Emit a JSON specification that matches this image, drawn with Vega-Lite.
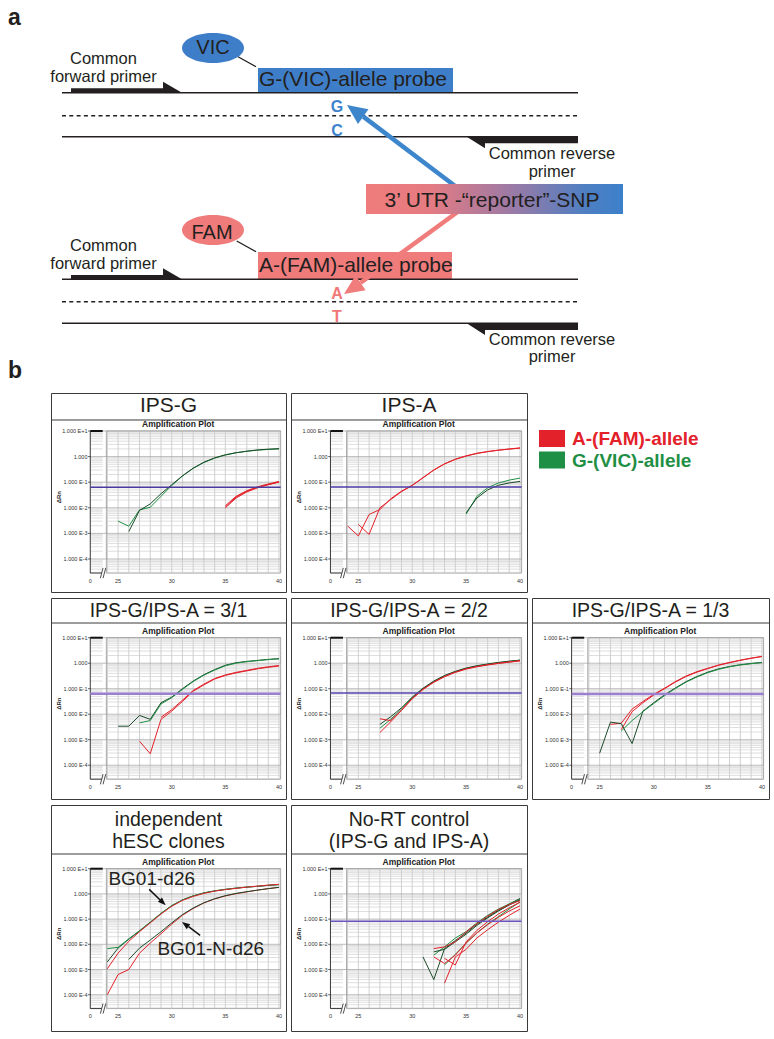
{
"$schema":"https://vega.github.io/schema/vega-lite/v6.json",
"padding":0,
"background":"#ffffff",
"config":{"view":{"stroke":"#3a3a3a","strokeWidth":1},"axis":{"disable":true},"legend":{"disable":true},"font":"Liberation Sans","text":{"font":"Liberation Sans"}},
"datasets":{
"hminor":[{"v":3e-5},{"v":4e-5},{"v":5e-5},{"v":6e-5},{"v":7e-5},{"v":8e-5},{"v":9e-5},{"v":2e-4},{"v":3e-4},{"v":4e-4},{"v":5e-4},{"v":6e-4},{"v":7e-4},{"v":8e-4},{"v":9e-4},{"v":0.002},{"v":0.003},{"v":0.004},{"v":0.005},{"v":0.006},{"v":0.007},{"v":0.008},{"v":0.009},{"v":0.02},{"v":0.03},{"v":0.04},{"v":0.05},{"v":0.06},{"v":0.07},{"v":0.08},{"v":0.09},{"v":0.2},{"v":0.3},{"v":0.4},{"v":0.5},{"v":0.6},{"v":0.7},{"v":0.8},{"v":0.9},{"v":2},{"v":3},{"v":4},{"v":5},{"v":6},{"v":7},{"v":8},{"v":9}],
"ylab":[{"v":10,"t":"1.000 E+1"},{"v":1,"t":"1.000"},{"v":0.1,"t":"1.000 E-1"},{"v":0.01,"t":"1.000 E-2"},{"v":0.001,"t":"1.000 E-3"},{"v":0.0001,"t":"1.000 E-4"}],
"vgrid":[{"c":24},{"c":25},{"c":26},{"c":27},{"c":28},{"c":29},{"c":30},{"c":31},{"c":32},{"c":33},{"c":34},{"c":35},{"c":36},{"c":37},{"c":38},{"c":39},{"c":40}],
"xlab":[{"c":22.41,"t":"0"},{"c":25,"t":"25"},{"c":30,"t":"30"},{"c":35,"t":"35"},{"c":40,"t":"40"}]
},
"spacing":4,
"vconcat":[
{"width":774,"height":388,"view":{"stroke":null},"data":{"values":[{}]},
"layer":[
{"data":{"values":[{"x":258,"x2":453,"y":68,"y2":92.7}]},"mark":{"type":"rect","fill":"#3e7ec8"},"encoding":{"x":{"field":"x","type":"quantitative","scale":{"domain":[0,774],"nice":false,"zero":false}},"x2":{"field":"x2"},"y":{"field":"y","type":"quantitative","scale":{"domain":[0,388],"reverse":true,"nice":false,"zero":false}},"y2":{"field":"y2"}}},
{"data":{"values":[{"x":258,"x2":452,"y":252,"y2":279.3}]},"mark":{"type":"rect","fill":"#ef7b7b"},"encoding":{"x":{"field":"x","type":"quantitative"},"x2":{"field":"x2"},"y":{"field":"y","type":"quantitative"},"y2":{"field":"y2"}}},
{"data":{"values":[{"x":62,"x2":578,"y":92.7},{"x":62,"x2":578,"y":136.7},{"x":62,"x2":578,"y":279.3},{"x":62,"x2":578,"y":323.3}]},"mark":{"type":"rule","stroke":"#231f20","strokeWidth":1.4},"encoding":{"x":{"field":"x","type":"quantitative"},"x2":{"field":"x2"},"y":{"field":"y","type":"quantitative"}}},
{"data":{"values":[{"x":62,"x2":578,"y":115.7},{"x":62,"x2":578,"y":301.7}]},"mark":{"type":"rule","stroke":"#231f20","strokeWidth":1.5,"strokeDash":[4,3.3]},"encoding":{"x":{"field":"x","type":"quantitative"},"x2":{"field":"x2"},"y":{"field":"y","type":"quantitative"}}},
{"data":{"values":[{"x":126.5,"y":87.2},{"x":126.5,"y":273.8}]},"mark":{"type":"point","shape":"M-1,0.0198L0.658,0.0198L0.658,-0.0991L1,0.0991L-1,0.0991Z","size":12321,"filled":true,"fill":"#231f20","opacity":1,"strokeWidth":0},"encoding":{"x":{"field":"x","type":"quantitative"},"y":{"field":"y","type":"quantitative"}}},
{"data":{"values":[{"x":522.35,"y":142.5},{"x":522.35,"y":329.1}]},"mark":{"type":"point","shape":"M-1,-0.1042L1,-0.1042L1,0.0144L-0.671,0.0144L-0.671,0.1042Z","size":12388,"filled":true,"fill":"#231f20","opacity":1,"strokeWidth":0},"encoding":{"x":{"field":"x","type":"quantitative"},"y":{"field":"y","type":"quantitative"}}},
{"data":{"values":[{"x":236.7,"y":56,"x2":256,"y2":66.7},{"x":236.7,"y":241,"x2":256,"y2":251.7}]},"mark":{"type":"rule","stroke":"#231f20","strokeWidth":1.3},"encoding":{"x":{"field":"x","type":"quantitative"},"x2":{"field":"x2"},"y":{"field":"y","type":"quantitative"},"y2":{"field":"y2"}}},
{"data":{"values":[{"x":213,"y":48}]},"mark":{"type":"point","shape":"M-1,0C-1,-0.267,-0.552,-0.484,0,-0.484C0.552,-0.484,1,-0.267,1,0C1,0.267,0.552,0.484,0,0.484C-0.552,0.484,-1,0.267,-1,0Z","size":3844,"filled":true,"fill":"#3e7ec8","opacity":1,"strokeWidth":0},"encoding":{"x":{"field":"x","type":"quantitative"},"y":{"field":"y","type":"quantitative"}}},
{"data":{"values":[{"x":213,"y":230}]},"mark":{"type":"point","shape":"M-1,0C-1,-0.267,-0.552,-0.484,0,-0.484C0.552,-0.484,1,-0.267,1,0C1,0.267,0.552,0.484,0,0.484C-0.552,0.484,-1,0.267,-1,0Z","size":3844,"filled":true,"fill":"#ef7b7b","opacity":1,"strokeWidth":0},"encoding":{"x":{"field":"x","type":"quantitative"},"y":{"field":"y","type":"quantitative"}}},
{"data":{"values":[{"x":463,"y":192,"x2":363.3,"y2":116.6}]},"mark":{"type":"rule","stroke":"#3d86cc","strokeWidth":4.5},"encoding":{"x":{"field":"x","type":"quantitative"},"x2":{"field":"x2"},"y":{"field":"y","type":"quantitative"},"y2":{"field":"y2"}}},
{"data":{"values":[{"x":463,"y":208,"x2":360.6,"y2":282.8}]},"mark":{"type":"rule","stroke":"#f17c7c","strokeWidth":4.5},"encoding":{"x":{"field":"x","type":"quantitative"},"x2":{"field":"x2"},"y":{"field":"y","type":"quantitative"},"y2":{"field":"y2"}}},
{"data":{"values":[{"x":366,"x2":623,"y":184,"y2":214}]},"mark":{"type":"rect","fill":{"gradient":"linear","x1":0,"x2":1,"y1":0,"y2":0,"stops":[{"offset":0,"color":"#f07c7c"},{"offset":0.25,"color":"#e47b82"},{"offset":0.55,"color":"#a07aa4"},{"offset":0.85,"color":"#4f7fc2"},{"offset":1,"color":"#3c80ca"}]}},"encoding":{"x":{"field":"x","type":"quantitative"},"x2":{"field":"x2"},"y":{"field":"y","type":"quantitative"},"y2":{"field":"y2"}}},
{"data":{"values":[{"x":355.1,"y":110.8}]},"mark":{"type":"point","shape":"M0,-1L0.9,1L-0.9,1Z","size":400,"filled":true,"fill":"#3d86cc","opacity":1,"strokeWidth":0,"angle":305.6},"encoding":{"x":{"field":"x","type":"quantitative"},"y":{"field":"y","type":"quantitative"}}},
{"data":{"values":[{"x":352.3,"y":288.4}]},"mark":{"type":"point","shape":"M0,-1L0.9,1L-0.9,1Z","size":400,"filled":true,"fill":"#f17c7c","opacity":1,"strokeWidth":0,"angle":236.1},"encoding":{"x":{"field":"x","type":"quantitative"},"y":{"field":"y","type":"quantitative"}}},
{"data":{"values":[{"x":213,"y":54,"t":"VIC"},{"x":212,"y":238.5,"t":"FAM"}]},"mark":{"type":"text","fontSize":20,"fill":"#231f20","align":"center","baseline":"alphabetic"},"encoding":{"x":{"field":"x","type":"quantitative"},"y":{"field":"y","type":"quantitative"},"text":{"field":"t"}}},
{"data":{"values":[{"x":259,"y":86,"t":"G-(VIC)-allele probe"},{"x":259,"y":272,"t":"A-(FAM)-allele probe"}]},"mark":{"type":"text","fontSize":21,"fill":"#231f20","align":"left","baseline":"alphabetic"},"encoding":{"x":{"field":"x","type":"quantitative"},"y":{"field":"y","type":"quantitative"},"text":{"field":"t"}}},
{"data":{"values":[{"x":492,"y":206.5,"t":"3’ UTR -“reporter”-SNP"}]},"mark":{"type":"text","fontSize":21,"fill":"#231f20","align":"center","baseline":"alphabetic"},"encoding":{"x":{"field":"x","type":"quantitative"},"y":{"field":"y","type":"quantitative"},"text":{"field":"t"}}},
{"data":{"values":[{"x":103.5,"y":64,"t":"Common"},{"x":103.5,"y":82,"t":"forward primer"},{"x":103.5,"y":251,"t":"Common"},{"x":103.5,"y":269,"t":"forward primer"},{"x":552,"y":159,"t":"Common reverse"},{"x":552,"y":177,"t":"primer"},{"x":552,"y":345,"t":"Common reverse"},{"x":552,"y":362,"t":"primer"}]},"mark":{"type":"text","fontSize":16.5,"fill":"#231f20","align":"center","baseline":"alphabetic"},"encoding":{"x":{"field":"x","type":"quantitative"},"y":{"field":"y","type":"quantitative"},"text":{"field":"t"}}},
{"data":{"values":[{"x":337,"y":111.5,"t":"G"},{"x":337,"y":135.5,"t":"C"}]},"mark":{"type":"text","fontSize":16,"fontWeight":"bold","fill":"#3f83cc","align":"center","baseline":"alphabetic"},"encoding":{"x":{"field":"x","type":"quantitative"},"y":{"field":"y","type":"quantitative"},"text":{"field":"t"}}},
{"data":{"values":[{"x":337,"y":299,"t":"A"},{"x":337,"y":321.5,"t":"T"}]},"mark":{"type":"text","fontSize":16,"fontWeight":"bold","fill":"#f07878","align":"center","baseline":"alphabetic"},"encoding":{"x":{"field":"x","type":"quantitative"},"y":{"field":"y","type":"quantitative"},"text":{"field":"t"}}},
{"data":{"values":[{"x":8,"y":25,"t":"a"},{"x":8,"y":378,"t":"b"}]},"mark":{"type":"text","fontSize":23,"fontWeight":"bold","fill":"#231f20","align":"left","baseline":"alphabetic"},"encoding":{"x":{"field":"x","type":"quantitative"},"y":{"field":"y","type":"quantitative"},"text":{"field":"t"}}}
]},
{"spacing":4,"hconcat":[
{"width":46,"height":10,"view":{"stroke":null},"data":{"values":[{}]},"mark":{"type":"text","text":""},"encoding":{}},
{"spacing":4,"vconcat":[
{"spacing":3,"hconcat":[
{"width":235,"height":199,"data":{"values":[{}]},"layer":[
{"mark":{"type":"rect","fill":"#ffffff","stroke":"#8c8c8c","strokeWidth":0.8},"encoding":{"x":{"datum":23.91,"type":"quantitative","scale":{"domain":[18.75,40.65],"nice":false,"zero":false}},"x2":{"datum":40.15},"y":{"datum":10,"type":"quantitative","scale":{"type":"log","domain":[5.13e-6,304.8],"nice":false}},"y2":{"datum":2.82e-5}}},
{"data":{"name":"vgrid"},"mark":{"type":"rule","stroke":"#bcbcbc","strokeWidth":0.7},"encoding":{"x":{"field":"c","type":"quantitative"},"y":{"datum":2.82e-5,"type":"quantitative"},"y2":{"datum":10}}},
{"data":{"name":"hminor"},"mark":{"type":"rule","stroke":"#d0d0d0","strokeWidth":0.7},"encoding":{"x":{"datum":23.91,"type":"quantitative"},"x2":{"datum":40.15},"y":{"field":"v","type":"quantitative"}}},
{"data":{"name":"hminor"},"mark":{"type":"rule","stroke":"#d0d0d0","strokeWidth":0.7},"encoding":{"x":{"datum":22.41,"type":"quantitative"},"x2":{"datum":23.57},"y":{"field":"v","type":"quantitative"}}},
{"data":{"name":"ylab"},"mark":{"type":"rule","stroke":"#a0a0a0","strokeWidth":0.7},"encoding":{"x":{"datum":22.41,"type":"quantitative"},"x2":{"datum":40.15},"y":{"field":"v","type":"quantitative"}}},
{"data":{"name":"ylab"},"mark":{"type":"rule","stroke":"#222222","strokeWidth":0.7},"encoding":{"x":{"datum":22.2,"type":"quantitative"},"x2":{"datum":22.41},"y":{"field":"v","type":"quantitative"}}},
{"mark":{"type":"rule","stroke":"#222222","strokeWidth":0.9},"encoding":{"x":{"datum":22.41,"type":"quantitative"},"y":{"datum":2.82e-5,"type":"quantitative"},"y2":{"datum":10}}},
{"mark":{"type":"rule","stroke":"#111111","strokeWidth":2},"encoding":{"x":{"datum":22.41,"type":"quantitative"},"x2":{"datum":23.57},"y":{"datum":10,"type":"quantitative"}}},
{"mark":{"type":"rule","stroke":"#222222","strokeWidth":0.9},"encoding":{"x":{"datum":22.41,"type":"quantitative"},"x2":{"datum":23.45},"y":{"datum":2.82e-5,"type":"quantitative"}}},
{"mark":{"type":"rule","stroke":"#222222","strokeWidth":0.8},"encoding":{"x":{"datum":23.35,"type":"quantitative"},"x2":{"datum":23.6},"y":{"datum":1.78e-5,"type":"quantitative"},"y2":{"datum":4.47e-5}}},
{"mark":{"type":"rule","stroke":"#222222","strokeWidth":0.8},"encoding":{"x":{"datum":23.6,"type":"quantitative"},"x2":{"datum":23.85},"y":{"datum":1.78e-5,"type":"quantitative"},"y2":{"datum":4.47e-5}}},
{"data":{"name":"ylab"},"mark":{"type":"text","align":"right","baseline":"middle","fontSize":5.5,"fill":"#333333"},"encoding":{"x":{"datum":22.15,"type":"quantitative"},"y":{"field":"v","type":"quantitative"},"text":{"field":"t"}}},
{"data":{"name":"xlab"},"mark":{"type":"text","align":"center","baseline":"middle","fontSize":5.5,"fill":"#333333"},"encoding":{"x":{"field":"c","type":"quantitative"},"y":{"datum":1.41e-5,"type":"quantitative"},"text":{"field":"t"}}},
{"mark":{"type":"text","text":"Amplification Plot","fontSize":8.5,"fontWeight":"bold","fill":"#222222","baseline":"middle"},"encoding":{"x":{"datum":30.6,"type":"quantitative"},"y":{"datum":18.6,"type":"quantitative"}}},
{"mark":{"type":"text","text":"ΔRn","fontSize":6,"fontWeight":"bold","fill":"#222222","angle":270,"baseline":"middle"},"encoding":{"x":{"datum":19.45,"type":"quantitative"},"y":{"datum":0.026,"type":"quantitative"}}},
{"mark":{"type":"rule","stroke":"#3a3a3a","strokeWidth":1},"encoding":{"x":{"datum":18.75,"type":"quantitative"},"x2":{"datum":40.65},"y":{"datum":26.9,"type":"quantitative"}}},
{"mark":{"type":"text","text":"IPS-G","fontSize":21,"fill":"#231f20","align":"center","baseline":"middle"},"encoding":{"x":{"datum":29.7,"type":"quantitative"},"y":{"datum":90.6,"type":"quantitative"}}},
{"data":{"values":[
{"c":25,"v":0.00302,"a":"G","r":"g1"},{"c":26,"v":0.001905,"a":"G","r":"g1"},{"c":27,"v":0.00832,"a":"G","r":"g1"},{"c":28,"v":0.01047,"a":"G","r":"g1"},{"c":29,"v":0.02818,"a":"G","r":"g1"},{"c":30,"v":0.0741,"a":"G","r":"g1"},{"c":31,"v":0.1738,"a":"G","r":"g1"},{"c":32,"v":0.3467,"a":"G","r":"g1"},{"c":33,"v":0.5888,"a":"G","r":"g1"},{"c":34,"v":0.871,"a":"G","r":"g1"},{"c":35,"v":1.148,"a":"G","r":"g1"},{"c":36,"v":1.413,"a":"G","r":"g1"},{"c":37,"v":1.622,"a":"G","r":"g1"},{"c":38,"v":1.778,"a":"G","r":"g1"},{"c":39,"v":1.905,"a":"G","r":"g1"},{"c":40,"v":1.995,"a":"G","r":"g1"},
{"c":26,"v":0.001175,"a":"K","r":"g2"},{"c":27,"v":0.00794,"a":"K","r":"g2"},{"c":28,"v":0.01413,"a":"K","r":"g2"},{"c":29,"v":0.03548,"a":"K","r":"g2"},{"c":30,"v":0.0794,"a":"K","r":"g2"},{"c":31,"v":0.1778,"a":"K","r":"g2"},{"c":32,"v":0.3548,"a":"K","r":"g2"},{"c":33,"v":0.6026,"a":"K","r":"g2"},{"c":34,"v":0.891,"a":"K","r":"g2"},{"c":35,"v":1.175,"a":"K","r":"g2"},{"c":36,"v":1.413,"a":"K","r":"g2"},{"c":37,"v":1.622,"a":"K","r":"g2"},{"c":38,"v":1.82,"a":"K","r":"g2"},{"c":39,"v":1.95,"a":"K","r":"g2"},{"c":40,"v":2.042,"a":"K","r":"g2"},
{"c":35,"v":0.01,"a":"A","r":"r1"},{"c":36,"v":0.02399,"a":"A","r":"r1"},{"c":37,"v":0.04169,"a":"A","r":"r1"},{"c":38,"v":0.06026,"a":"A","r":"r1"},{"c":39,"v":0.07943,"a":"A","r":"r1"},{"c":40,"v":0.1,"a":"A","r":"r1"},
{"c":35,"v":0.01202,"a":"A","r":"r2"},{"c":36,"v":0.02818,"a":"A","r":"r2"},{"c":37,"v":0.04677,"a":"A","r":"r2"},{"c":38,"v":0.06607,"a":"A","r":"r2"},{"c":39,"v":0.08511,"a":"A","r":"r2"},{"c":40,"v":0.1072,"a":"A","r":"r2"},
{"c":35,"v":0.01072,"a":"A","r":"r3"},{"c":36,"v":0.0263,"a":"A","r":"r3"},{"c":37,"v":0.04365,"a":"A","r":"r3"},{"c":38,"v":0.0631,"a":"A","r":"r3"},{"c":39,"v":0.08128,"a":"A","r":"r3"},{"c":40,"v":0.1023,"a":"A","r":"r3"}
]},"mark":{"type":"line","strokeWidth":1},"encoding":{"x":{"field":"c","type":"quantitative"},"y":{"field":"v","type":"quantitative"},"color":{"field":"a","type":"nominal","scale":{"domain":["A","G","K"],"range":["#e3212a","#1f8f45","#1b4a28"]}},"detail":{"field":"r","type":"nominal"}}},
{"mark":{"type":"rule","stroke":"#4a3aa0","strokeWidth":1.5},"encoding":{"x":{"datum":22.41,"type":"quantitative"},"x2":{"datum":40.15},"y":{"datum":0.063,"type":"quantitative"}}}
]},
{"width":236,"height":199,"data":{"values":[{}]},"layer":[
{"mark":{"type":"rect","fill":"#ffffff","stroke":"#8c8c8c","strokeWidth":0.8},"encoding":{"x":{"datum":23.91,"type":"quantitative","scale":{"domain":[18.75,40.65],"nice":false,"zero":false}},"x2":{"datum":40.15},"y":{"datum":10,"type":"quantitative","scale":{"type":"log","domain":[5.13e-6,304.8],"nice":false}},"y2":{"datum":2.82e-5}}},
{"data":{"name":"vgrid"},"mark":{"type":"rule","stroke":"#bcbcbc","strokeWidth":0.7},"encoding":{"x":{"field":"c","type":"quantitative"},"y":{"datum":2.82e-5,"type":"quantitative"},"y2":{"datum":10}}},
{"data":{"name":"hminor"},"mark":{"type":"rule","stroke":"#d0d0d0","strokeWidth":0.7},"encoding":{"x":{"datum":23.91,"type":"quantitative"},"x2":{"datum":40.15},"y":{"field":"v","type":"quantitative"}}},
{"data":{"name":"hminor"},"mark":{"type":"rule","stroke":"#d0d0d0","strokeWidth":0.7},"encoding":{"x":{"datum":22.41,"type":"quantitative"},"x2":{"datum":23.57},"y":{"field":"v","type":"quantitative"}}},
{"data":{"name":"ylab"},"mark":{"type":"rule","stroke":"#a0a0a0","strokeWidth":0.7},"encoding":{"x":{"datum":22.41,"type":"quantitative"},"x2":{"datum":40.15},"y":{"field":"v","type":"quantitative"}}},
{"data":{"name":"ylab"},"mark":{"type":"rule","stroke":"#222222","strokeWidth":0.7},"encoding":{"x":{"datum":22.2,"type":"quantitative"},"x2":{"datum":22.41},"y":{"field":"v","type":"quantitative"}}},
{"mark":{"type":"rule","stroke":"#222222","strokeWidth":0.9},"encoding":{"x":{"datum":22.41,"type":"quantitative"},"y":{"datum":2.82e-5,"type":"quantitative"},"y2":{"datum":10}}},
{"mark":{"type":"rule","stroke":"#111111","strokeWidth":2},"encoding":{"x":{"datum":22.41,"type":"quantitative"},"x2":{"datum":23.57},"y":{"datum":10,"type":"quantitative"}}},
{"mark":{"type":"rule","stroke":"#222222","strokeWidth":0.9},"encoding":{"x":{"datum":22.41,"type":"quantitative"},"x2":{"datum":23.45},"y":{"datum":2.82e-5,"type":"quantitative"}}},
{"mark":{"type":"rule","stroke":"#222222","strokeWidth":0.8},"encoding":{"x":{"datum":23.35,"type":"quantitative"},"x2":{"datum":23.6},"y":{"datum":1.78e-5,"type":"quantitative"},"y2":{"datum":4.47e-5}}},
{"mark":{"type":"rule","stroke":"#222222","strokeWidth":0.8},"encoding":{"x":{"datum":23.6,"type":"quantitative"},"x2":{"datum":23.85},"y":{"datum":1.78e-5,"type":"quantitative"},"y2":{"datum":4.47e-5}}},
{"data":{"name":"ylab"},"mark":{"type":"text","align":"right","baseline":"middle","fontSize":5.5,"fill":"#333333"},"encoding":{"x":{"datum":22.15,"type":"quantitative"},"y":{"field":"v","type":"quantitative"},"text":{"field":"t"}}},
{"data":{"name":"xlab"},"mark":{"type":"text","align":"center","baseline":"middle","fontSize":5.5,"fill":"#333333"},"encoding":{"x":{"field":"c","type":"quantitative"},"y":{"datum":1.41e-5,"type":"quantitative"},"text":{"field":"t"}}},
{"mark":{"type":"text","text":"Amplification Plot","fontSize":8.5,"fontWeight":"bold","fill":"#222222","baseline":"middle"},"encoding":{"x":{"datum":30.6,"type":"quantitative"},"y":{"datum":18.6,"type":"quantitative"}}},
{"mark":{"type":"text","text":"ΔRn","fontSize":6,"fontWeight":"bold","fill":"#222222","angle":270,"baseline":"middle"},"encoding":{"x":{"datum":19.45,"type":"quantitative"},"y":{"datum":0.026,"type":"quantitative"}}},
{"mark":{"type":"rule","stroke":"#3a3a3a","strokeWidth":1},"encoding":{"x":{"datum":18.75,"type":"quantitative"},"x2":{"datum":40.65},"y":{"datum":26.9,"type":"quantitative"}}},
{"mark":{"type":"text","text":"IPS-A","fontSize":21,"fill":"#231f20","align":"center","baseline":"middle"},"encoding":{"x":{"datum":29.7,"type":"quantitative"},"y":{"datum":90.6,"type":"quantitative"}}},
{"data":{"values":[
{"c":24,"v":0.00195,"a":"A","r":"r1"},{"c":25,"v":0.000794,"a":"A","r":"r1"},{"c":26,"v":0.005495,"a":"A","r":"r1"},{"c":27,"v":0.008511,"a":"A","r":"r1"},{"c":28,"v":0.02239,"a":"A","r":"r1"},{"c":29,"v":0.04467,"a":"A","r":"r1"},{"c":30,"v":0.07586,"a":"A","r":"r1"},{"c":31,"v":0.1514,"a":"A","r":"r1"},{"c":32,"v":0.302,"a":"A","r":"r1"},{"c":33,"v":0.5248,"a":"A","r":"r1"},{"c":34,"v":0.7943,"a":"A","r":"r1"},{"c":35,"v":1.072,"a":"A","r":"r1"},{"c":36,"v":1.349,"a":"A","r":"r1"},{"c":37,"v":1.585,"a":"A","r":"r1"},{"c":38,"v":1.778,"a":"A","r":"r1"},{"c":39,"v":1.995,"a":"A","r":"r1"},{"c":40,"v":2.188,"a":"A","r":"r1"},
{"c":25,"v":0.002239,"a":"A","r":"r2"},{"c":26,"v":0.000912,"a":"A","r":"r2"},{"c":27,"v":0.01,"a":"A","r":"r2"},{"c":28,"v":0.02089,"a":"A","r":"r2"},{"c":29,"v":0.04266,"a":"A","r":"r2"},{"c":30,"v":0.07413,"a":"A","r":"r2"},{"c":31,"v":0.1479,"a":"A","r":"r2"},{"c":32,"v":0.2951,"a":"A","r":"r2"},{"c":33,"v":0.5129,"a":"A","r":"r2"},{"c":34,"v":0.7762,"a":"A","r":"r2"},{"c":35,"v":1.047,"a":"A","r":"r2"},{"c":36,"v":1.318,"a":"A","r":"r2"},{"c":37,"v":1.549,"a":"A","r":"r2"},{"c":38,"v":1.778,"a":"A","r":"r2"},{"c":39,"v":1.95,"a":"A","r":"r2"},{"c":40,"v":2.138,"a":"A","r":"r2"},
{"c":35,"v":0.005623,"a":"G","r":"g1"},{"c":36,"v":0.02818,"a":"G","r":"g1"},{"c":37,"v":0.06026,"a":"G","r":"g1"},{"c":38,"v":0.09333,"a":"G","r":"g1"},{"c":39,"v":0.1202,"a":"G","r":"g1"},{"c":40,"v":0.1445,"a":"G","r":"g1"},
{"c":35,"v":0.00631,"a":"K","r":"g2"},{"c":36,"v":0.02399,"a":"K","r":"g2"},{"c":37,"v":0.05012,"a":"K","r":"g2"},{"c":38,"v":0.07586,"a":"K","r":"g2"},{"c":39,"v":0.09333,"a":"K","r":"g2"},{"c":40,"v":0.1072,"a":"K","r":"g2"}
]},"mark":{"type":"line","strokeWidth":1},"encoding":{"x":{"field":"c","type":"quantitative"},"y":{"field":"v","type":"quantitative"},"color":{"field":"a","type":"nominal","scale":{"domain":["A","G","K"],"range":["#e3212a","#1f8f45","#1b4a28"]}},"detail":{"field":"r","type":"nominal"}}},
{"mark":{"type":"rule","stroke":"#4d3ba8","strokeWidth":1.5},"encoding":{"x":{"datum":22.41,"type":"quantitative"},"x2":{"datum":40.15},"y":{"datum":0.065,"type":"quantitative"}}}
]},
{"width":237,"height":199,"view":{"stroke":null},"data":{"values":[{"k":1,"a":"A","t":"A-(FAM)-allele"},{"k":2,"a":"G","t":"G-(VIC)-allele"}]},"layer":[
{"mark":{"type":"point","shape":"M-1,-0.654H1V0.654H-1Z","size":676,"filled":true,"opacity":1,"strokeWidth":0},"encoding":{"x":{"datum":21,"type":"quantitative","scale":{"domain":[0,237],"nice":false,"zero":false}},"y":{"field":"k","type":"quantitative","scale":{"domain":[-1.116,8.14],"reverse":true,"nice":false,"zero":false}},"color":{"field":"a","type":"nominal","scale":{"domain":["A","G","K"],"range":["#e3212a","#1f8f45","#1b4a28"]}}}},
{"mark":{"type":"text","align":"left","baseline":"middle","fontSize":19,"fontWeight":"bold","dy":1},"encoding":{"x":{"datum":41,"type":"quantitative"},"y":{"field":"k","type":"quantitative"},"text":{"field":"t"},"color":{"field":"a","type":"nominal"}}}
]}
]},
{"spacing":3,"hconcat":[
{"width":235,"height":201,"data":{"values":[{}]},"layer":[
{"mark":{"type":"rect","fill":"#ffffff","stroke":"#8c8c8c","strokeWidth":0.8},"encoding":{"x":{"datum":23.91,"type":"quantitative","scale":{"domain":[18.75,40.65],"nice":false,"zero":false}},"x2":{"datum":40.15},"y":{"datum":10,"type":"quantitative","scale":{"type":"log","domain":[4.73e-6,360.6],"nice":false}},"y2":{"datum":2.82e-5}}},
{"data":{"name":"vgrid"},"mark":{"type":"rule","stroke":"#bcbcbc","strokeWidth":0.7},"encoding":{"x":{"field":"c","type":"quantitative"},"y":{"datum":2.82e-5,"type":"quantitative"},"y2":{"datum":10}}},
{"data":{"name":"hminor"},"mark":{"type":"rule","stroke":"#d0d0d0","strokeWidth":0.7},"encoding":{"x":{"datum":23.91,"type":"quantitative"},"x2":{"datum":40.15},"y":{"field":"v","type":"quantitative"}}},
{"data":{"name":"hminor"},"mark":{"type":"rule","stroke":"#d0d0d0","strokeWidth":0.7},"encoding":{"x":{"datum":22.41,"type":"quantitative"},"x2":{"datum":23.57},"y":{"field":"v","type":"quantitative"}}},
{"data":{"name":"ylab"},"mark":{"type":"rule","stroke":"#a0a0a0","strokeWidth":0.7},"encoding":{"x":{"datum":22.41,"type":"quantitative"},"x2":{"datum":40.15},"y":{"field":"v","type":"quantitative"}}},
{"data":{"name":"ylab"},"mark":{"type":"rule","stroke":"#222222","strokeWidth":0.7},"encoding":{"x":{"datum":22.2,"type":"quantitative"},"x2":{"datum":22.41},"y":{"field":"v","type":"quantitative"}}},
{"mark":{"type":"rule","stroke":"#222222","strokeWidth":0.9},"encoding":{"x":{"datum":22.41,"type":"quantitative"},"y":{"datum":2.82e-5,"type":"quantitative"},"y2":{"datum":10}}},
{"mark":{"type":"rule","stroke":"#111111","strokeWidth":2},"encoding":{"x":{"datum":22.41,"type":"quantitative"},"x2":{"datum":23.57},"y":{"datum":10,"type":"quantitative"}}},
{"mark":{"type":"rule","stroke":"#222222","strokeWidth":0.9},"encoding":{"x":{"datum":22.41,"type":"quantitative"},"x2":{"datum":23.45},"y":{"datum":2.82e-5,"type":"quantitative"}}},
{"mark":{"type":"rule","stroke":"#222222","strokeWidth":0.8},"encoding":{"x":{"datum":23.35,"type":"quantitative"},"x2":{"datum":23.6},"y":{"datum":1.78e-5,"type":"quantitative"},"y2":{"datum":4.47e-5}}},
{"mark":{"type":"rule","stroke":"#222222","strokeWidth":0.8},"encoding":{"x":{"datum":23.6,"type":"quantitative"},"x2":{"datum":23.85},"y":{"datum":1.78e-5,"type":"quantitative"},"y2":{"datum":4.47e-5}}},
{"data":{"name":"ylab"},"mark":{"type":"text","align":"right","baseline":"middle","fontSize":5.5,"fill":"#333333"},"encoding":{"x":{"datum":22.15,"type":"quantitative"},"y":{"field":"v","type":"quantitative"},"text":{"field":"t"}}},
{"data":{"name":"xlab"},"mark":{"type":"text","align":"center","baseline":"middle","fontSize":5.5,"fill":"#333333"},"encoding":{"x":{"field":"c","type":"quantitative"},"y":{"datum":1.41e-5,"type":"quantitative"},"text":{"field":"t"}}},
{"mark":{"type":"text","text":"Amplification Plot","fontSize":8.5,"fontWeight":"bold","fill":"#222222","baseline":"middle"},"encoding":{"x":{"datum":30.6,"type":"quantitative"},"y":{"datum":18.6,"type":"quantitative"}}},
{"mark":{"type":"text","text":"ΔRn","fontSize":6,"fontWeight":"bold","fill":"#222222","angle":270,"baseline":"middle"},"encoding":{"x":{"datum":19.45,"type":"quantitative"},"y":{"datum":0.026,"type":"quantitative"}}},
{"mark":{"type":"rule","stroke":"#3a3a3a","strokeWidth":1},"encoding":{"x":{"datum":18.75,"type":"quantitative"},"x2":{"datum":40.65},"y":{"datum":37.7,"type":"quantitative"}}},
{"mark":{"type":"text","text":"IPS-G/IPS-A = 3/1","fontSize":19.5,"fill":"#231f20","align":"center","baseline":"middle"},"encoding":{"x":{"datum":29.7,"type":"quantitative"},"y":{"datum":116.6,"type":"quantitative"}}},
{"data":{"values":[
{"c":25,"v":0.003388,"a":"K","r":"g1"},{"c":26,"v":0.003388,"a":"K","r":"g1"},{"c":27,"v":0.008913,"a":"K","r":"g1"},{"c":28,"v":0.00631,"a":"K","r":"g1"},{"c":29,"v":0.02818,"a":"K","r":"g1"},{"c":30,"v":0.04677,"a":"K","r":"g1"},{"c":31,"v":0.1,"a":"K","r":"g1"},{"c":32,"v":0.1995,"a":"K","r":"g1"},{"c":33,"v":0.3548,"a":"K","r":"g1"},{"c":34,"v":0.5623,"a":"K","r":"g1"},{"c":35,"v":0.8318,"a":"K","r":"g1"},{"c":36,"v":1.047,"a":"K","r":"g1"},{"c":37,"v":1.175,"a":"K","r":"g1"},{"c":38,"v":1.288,"a":"K","r":"g1"},{"c":39,"v":1.413,"a":"K","r":"g1"},{"c":40,"v":1.514,"a":"K","r":"g1"},
{"c":27,"v":0.004571,"a":"G","r":"g2"},{"c":28,"v":0.005623,"a":"G","r":"g2"},{"c":29,"v":0.02512,"a":"G","r":"g2"},{"c":30,"v":0.04467,"a":"G","r":"g2"},{"c":31,"v":0.09333,"a":"G","r":"g2"},{"c":32,"v":0.1905,"a":"G","r":"g2"},{"c":33,"v":0.3388,"a":"G","r":"g2"},{"c":34,"v":0.537,"a":"G","r":"g2"},{"c":35,"v":0.7943,"a":"G","r":"g2"},{"c":36,"v":1.0,"a":"G","r":"g2"},{"c":37,"v":1.148,"a":"G","r":"g2"},{"c":38,"v":1.259,"a":"G","r":"g2"},{"c":39,"v":1.38,"a":"G","r":"g2"},{"c":40,"v":1.479,"a":"G","r":"g2"},
{"c":27,"v":0.000871,"a":"A","r":"r1"},{"c":28,"v":0.0002818,"a":"A","r":"r1"},{"c":29,"v":0.00631,"a":"A","r":"r1"},{"c":30,"v":0.01318,"a":"A","r":"r1"},{"c":31,"v":0.03162,"a":"A","r":"r1"},{"c":32,"v":0.07943,"a":"A","r":"r1"},{"c":33,"v":0.1413,"a":"A","r":"r1"},{"c":34,"v":0.2399,"a":"A","r":"r1"},{"c":35,"v":0.3311,"a":"A","r":"r1"},{"c":36,"v":0.4169,"a":"A","r":"r1"},{"c":37,"v":0.5012,"a":"A","r":"r1"},{"c":38,"v":0.6026,"a":"A","r":"r1"},{"c":39,"v":0.6918,"a":"A","r":"r1"},{"c":40,"v":0.7762,"a":"A","r":"r1"},
{"c":29,"v":0.007586,"a":"A","r":"r2"},{"c":30,"v":0.01514,"a":"A","r":"r2"},{"c":31,"v":0.03548,"a":"A","r":"r2"},{"c":32,"v":0.08511,"a":"A","r":"r2"},{"c":33,"v":0.1514,"a":"A","r":"r2"},{"c":34,"v":0.2512,"a":"A","r":"r2"},{"c":35,"v":0.3467,"a":"A","r":"r2"},{"c":36,"v":0.4365,"a":"A","r":"r2"},{"c":37,"v":0.5248,"a":"A","r":"r2"},{"c":38,"v":0.631,"a":"A","r":"r2"},{"c":39,"v":0.7244,"a":"A","r":"r2"},{"c":40,"v":0.8128,"a":"A","r":"r2"}
]},"mark":{"type":"line","strokeWidth":1},"encoding":{"x":{"field":"c","type":"quantitative"},"y":{"field":"v","type":"quantitative"},"color":{"field":"a","type":"nominal","scale":{"domain":["A","G","K"],"range":["#e3212a","#1f8f45","#1b4a28"]}},"detail":{"field":"r","type":"nominal"}}},
{"mark":{"type":"rule","stroke":"#9b80d0","strokeWidth":2.5},"encoding":{"x":{"datum":22.41,"type":"quantitative"},"x2":{"datum":40.15},"y":{"datum":0.063,"type":"quantitative"}}}
]},
{"width":236,"height":201,"data":{"values":[{}]},"layer":[
{"mark":{"type":"rect","fill":"#ffffff","stroke":"#8c8c8c","strokeWidth":0.8},"encoding":{"x":{"datum":23.91,"type":"quantitative","scale":{"domain":[18.75,40.65],"nice":false,"zero":false}},"x2":{"datum":40.15},"y":{"datum":10,"type":"quantitative","scale":{"type":"log","domain":[4.73e-6,360.6],"nice":false}},"y2":{"datum":2.82e-5}}},
{"data":{"name":"vgrid"},"mark":{"type":"rule","stroke":"#bcbcbc","strokeWidth":0.7},"encoding":{"x":{"field":"c","type":"quantitative"},"y":{"datum":2.82e-5,"type":"quantitative"},"y2":{"datum":10}}},
{"data":{"name":"hminor"},"mark":{"type":"rule","stroke":"#d0d0d0","strokeWidth":0.7},"encoding":{"x":{"datum":23.91,"type":"quantitative"},"x2":{"datum":40.15},"y":{"field":"v","type":"quantitative"}}},
{"data":{"name":"hminor"},"mark":{"type":"rule","stroke":"#d0d0d0","strokeWidth":0.7},"encoding":{"x":{"datum":22.41,"type":"quantitative"},"x2":{"datum":23.57},"y":{"field":"v","type":"quantitative"}}},
{"data":{"name":"ylab"},"mark":{"type":"rule","stroke":"#a0a0a0","strokeWidth":0.7},"encoding":{"x":{"datum":22.41,"type":"quantitative"},"x2":{"datum":40.15},"y":{"field":"v","type":"quantitative"}}},
{"data":{"name":"ylab"},"mark":{"type":"rule","stroke":"#222222","strokeWidth":0.7},"encoding":{"x":{"datum":22.2,"type":"quantitative"},"x2":{"datum":22.41},"y":{"field":"v","type":"quantitative"}}},
{"mark":{"type":"rule","stroke":"#222222","strokeWidth":0.9},"encoding":{"x":{"datum":22.41,"type":"quantitative"},"y":{"datum":2.82e-5,"type":"quantitative"},"y2":{"datum":10}}},
{"mark":{"type":"rule","stroke":"#111111","strokeWidth":2},"encoding":{"x":{"datum":22.41,"type":"quantitative"},"x2":{"datum":23.57},"y":{"datum":10,"type":"quantitative"}}},
{"mark":{"type":"rule","stroke":"#222222","strokeWidth":0.9},"encoding":{"x":{"datum":22.41,"type":"quantitative"},"x2":{"datum":23.45},"y":{"datum":2.82e-5,"type":"quantitative"}}},
{"mark":{"type":"rule","stroke":"#222222","strokeWidth":0.8},"encoding":{"x":{"datum":23.35,"type":"quantitative"},"x2":{"datum":23.6},"y":{"datum":1.78e-5,"type":"quantitative"},"y2":{"datum":4.47e-5}}},
{"mark":{"type":"rule","stroke":"#222222","strokeWidth":0.8},"encoding":{"x":{"datum":23.6,"type":"quantitative"},"x2":{"datum":23.85},"y":{"datum":1.78e-5,"type":"quantitative"},"y2":{"datum":4.47e-5}}},
{"data":{"name":"ylab"},"mark":{"type":"text","align":"right","baseline":"middle","fontSize":5.5,"fill":"#333333"},"encoding":{"x":{"datum":22.15,"type":"quantitative"},"y":{"field":"v","type":"quantitative"},"text":{"field":"t"}}},
{"data":{"name":"xlab"},"mark":{"type":"text","align":"center","baseline":"middle","fontSize":5.5,"fill":"#333333"},"encoding":{"x":{"field":"c","type":"quantitative"},"y":{"datum":1.41e-5,"type":"quantitative"},"text":{"field":"t"}}},
{"mark":{"type":"text","text":"Amplification Plot","fontSize":8.5,"fontWeight":"bold","fill":"#222222","baseline":"middle"},"encoding":{"x":{"datum":30.6,"type":"quantitative"},"y":{"datum":18.6,"type":"quantitative"}}},
{"mark":{"type":"text","text":"ΔRn","fontSize":6,"fontWeight":"bold","fill":"#222222","angle":270,"baseline":"middle"},"encoding":{"x":{"datum":19.45,"type":"quantitative"},"y":{"datum":0.026,"type":"quantitative"}}},
{"mark":{"type":"rule","stroke":"#3a3a3a","strokeWidth":1},"encoding":{"x":{"datum":18.75,"type":"quantitative"},"x2":{"datum":40.65},"y":{"datum":37.7,"type":"quantitative"}}},
{"mark":{"type":"text","text":"IPS-G/IPS-A = 2/2","fontSize":19.5,"fill":"#231f20","align":"center","baseline":"middle"},"encoding":{"x":{"datum":29.7,"type":"quantitative"},"y":{"datum":116.6,"type":"quantitative"}}},
{"data":{"values":[
{"c":27,"v":0.002818,"a":"G","r":"g1"},{"c":28,"v":0.00631,"a":"G","r":"g1"},{"c":29,"v":0.01585,"a":"G","r":"g1"},{"c":30,"v":0.04467,"a":"G","r":"g1"},{"c":31,"v":0.1,"a":"G","r":"g1"},{"c":32,"v":0.1905,"a":"G","r":"g1"},{"c":33,"v":0.3162,"a":"G","r":"g1"},{"c":34,"v":0.4677,"a":"G","r":"g1"},{"c":35,"v":0.631,"a":"G","r":"g1"},{"c":36,"v":0.7762,"a":"G","r":"g1"},{"c":37,"v":0.912,"a":"G","r":"g1"},{"c":38,"v":1.047,"a":"G","r":"g1"},{"c":39,"v":1.175,"a":"G","r":"g1"},{"c":40,"v":1.318,"a":"G","r":"g1"},
{"c":27,"v":0.003981,"a":"K","r":"g2"},{"c":28,"v":0.007943,"a":"K","r":"g2"},{"c":29,"v":0.01778,"a":"K","r":"g2"},{"c":30,"v":0.04677,"a":"K","r":"g2"},{"c":31,"v":0.1047,"a":"K","r":"g2"},{"c":32,"v":0.1995,"a":"K","r":"g2"},{"c":33,"v":0.3311,"a":"K","r":"g2"},{"c":34,"v":0.4786,"a":"K","r":"g2"},{"c":35,"v":0.6457,"a":"K","r":"g2"},{"c":36,"v":0.7943,"a":"K","r":"g2"},{"c":37,"v":0.9333,"a":"K","r":"g2"},{"c":38,"v":1.072,"a":"K","r":"g2"},{"c":39,"v":1.202,"a":"K","r":"g2"},{"c":40,"v":1.318,"a":"K","r":"g2"},
{"c":27,"v":0.006607,"a":"A","r":"r1"},{"c":28,"v":0.005623,"a":"A","r":"r1"},{"c":29,"v":0.01413,"a":"A","r":"r1"},{"c":30,"v":0.03981,"a":"A","r":"r1"},{"c":31,"v":0.09333,"a":"A","r":"r1"},{"c":32,"v":0.1778,"a":"A","r":"r1"},{"c":33,"v":0.2951,"a":"A","r":"r1"},{"c":34,"v":0.4365,"a":"A","r":"r1"},{"c":35,"v":0.5888,"a":"A","r":"r1"},{"c":36,"v":0.7244,"a":"A","r":"r1"},{"c":37,"v":0.8511,"a":"A","r":"r1"},{"c":38,"v":0.9772,"a":"A","r":"r1"},{"c":39,"v":1.096,"a":"A","r":"r1"},{"c":40,"v":1.23,"a":"A","r":"r1"},
{"c":27,"v":0.001905,"a":"A","r":"r2"},{"c":28,"v":0.005012,"a":"A","r":"r2"},{"c":29,"v":0.01413,"a":"A","r":"r2"},{"c":30,"v":0.04169,"a":"A","r":"r2"},{"c":31,"v":0.0955,"a":"A","r":"r2"},{"c":32,"v":0.182,"a":"A","r":"r2"},{"c":33,"v":0.302,"a":"A","r":"r2"},{"c":34,"v":0.4467,"a":"A","r":"r2"},{"c":35,"v":0.6026,"a":"A","r":"r2"},{"c":36,"v":0.7413,"a":"A","r":"r2"},{"c":37,"v":0.871,"a":"A","r":"r2"},{"c":38,"v":1.0,"a":"A","r":"r2"},{"c":39,"v":1.122,"a":"A","r":"r2"},{"c":40,"v":1.259,"a":"A","r":"r2"}
]},"mark":{"type":"line","strokeWidth":1},"encoding":{"x":{"field":"c","type":"quantitative"},"y":{"field":"v","type":"quantitative"},"color":{"field":"a","type":"nominal","scale":{"domain":["A","G","K"],"range":["#e3212a","#1f8f45","#1b4a28"]}},"detail":{"field":"r","type":"nominal"}}},
{"mark":{"type":"rule","stroke":"#5a45b0","strokeWidth":1.5},"encoding":{"x":{"datum":22.41,"type":"quantitative"},"x2":{"datum":40.15},"y":{"datum":0.068,"type":"quantitative"}}}
]},
{"width":237,"height":201,"data":{"values":[{}]},"layer":[
{"mark":{"type":"rect","fill":"#ffffff","stroke":"#8c8c8c","strokeWidth":0.8},"encoding":{"x":{"datum":23.91,"type":"quantitative","scale":{"domain":[18.75,40.65],"nice":false,"zero":false}},"x2":{"datum":40.15},"y":{"datum":10,"type":"quantitative","scale":{"type":"log","domain":[4.73e-6,360.6],"nice":false}},"y2":{"datum":2.82e-5}}},
{"data":{"name":"vgrid"},"mark":{"type":"rule","stroke":"#bcbcbc","strokeWidth":0.7},"encoding":{"x":{"field":"c","type":"quantitative"},"y":{"datum":2.82e-5,"type":"quantitative"},"y2":{"datum":10}}},
{"data":{"name":"hminor"},"mark":{"type":"rule","stroke":"#d0d0d0","strokeWidth":0.7},"encoding":{"x":{"datum":23.91,"type":"quantitative"},"x2":{"datum":40.15},"y":{"field":"v","type":"quantitative"}}},
{"data":{"name":"hminor"},"mark":{"type":"rule","stroke":"#d0d0d0","strokeWidth":0.7},"encoding":{"x":{"datum":22.41,"type":"quantitative"},"x2":{"datum":23.57},"y":{"field":"v","type":"quantitative"}}},
{"data":{"name":"ylab"},"mark":{"type":"rule","stroke":"#a0a0a0","strokeWidth":0.7},"encoding":{"x":{"datum":22.41,"type":"quantitative"},"x2":{"datum":40.15},"y":{"field":"v","type":"quantitative"}}},
{"data":{"name":"ylab"},"mark":{"type":"rule","stroke":"#222222","strokeWidth":0.7},"encoding":{"x":{"datum":22.2,"type":"quantitative"},"x2":{"datum":22.41},"y":{"field":"v","type":"quantitative"}}},
{"mark":{"type":"rule","stroke":"#222222","strokeWidth":0.9},"encoding":{"x":{"datum":22.41,"type":"quantitative"},"y":{"datum":2.82e-5,"type":"quantitative"},"y2":{"datum":10}}},
{"mark":{"type":"rule","stroke":"#111111","strokeWidth":2},"encoding":{"x":{"datum":22.41,"type":"quantitative"},"x2":{"datum":23.57},"y":{"datum":10,"type":"quantitative"}}},
{"mark":{"type":"rule","stroke":"#222222","strokeWidth":0.9},"encoding":{"x":{"datum":22.41,"type":"quantitative"},"x2":{"datum":23.45},"y":{"datum":2.82e-5,"type":"quantitative"}}},
{"mark":{"type":"rule","stroke":"#222222","strokeWidth":0.8},"encoding":{"x":{"datum":23.35,"type":"quantitative"},"x2":{"datum":23.6},"y":{"datum":1.78e-5,"type":"quantitative"},"y2":{"datum":4.47e-5}}},
{"mark":{"type":"rule","stroke":"#222222","strokeWidth":0.8},"encoding":{"x":{"datum":23.6,"type":"quantitative"},"x2":{"datum":23.85},"y":{"datum":1.78e-5,"type":"quantitative"},"y2":{"datum":4.47e-5}}},
{"data":{"name":"ylab"},"mark":{"type":"text","align":"right","baseline":"middle","fontSize":5.5,"fill":"#333333"},"encoding":{"x":{"datum":22.15,"type":"quantitative"},"y":{"field":"v","type":"quantitative"},"text":{"field":"t"}}},
{"data":{"name":"xlab"},"mark":{"type":"text","align":"center","baseline":"middle","fontSize":5.5,"fill":"#333333"},"encoding":{"x":{"field":"c","type":"quantitative"},"y":{"datum":1.41e-5,"type":"quantitative"},"text":{"field":"t"}}},
{"mark":{"type":"text","text":"Amplification Plot","fontSize":8.5,"fontWeight":"bold","fill":"#222222","baseline":"middle"},"encoding":{"x":{"datum":30.6,"type":"quantitative"},"y":{"datum":18.6,"type":"quantitative"}}},
{"mark":{"type":"text","text":"ΔRn","fontSize":6,"fontWeight":"bold","fill":"#222222","angle":270,"baseline":"middle"},"encoding":{"x":{"datum":19.45,"type":"quantitative"},"y":{"datum":0.026,"type":"quantitative"}}},
{"mark":{"type":"rule","stroke":"#3a3a3a","strokeWidth":1},"encoding":{"x":{"datum":18.75,"type":"quantitative"},"x2":{"datum":40.65},"y":{"datum":37.7,"type":"quantitative"}}},
{"mark":{"type":"text","text":"IPS-G/IPS-A = 1/3","fontSize":19.5,"fill":"#231f20","align":"center","baseline":"middle"},"encoding":{"x":{"datum":29.7,"type":"quantitative"},"y":{"datum":116.6,"type":"quantitative"}}},
{"data":{"values":[
{"c":26,"v":0.003981,"a":"A","r":"r1"},{"c":27,"v":0.004467,"a":"A","r":"r1"},{"c":28,"v":0.01585,"a":"A","r":"r1"},{"c":29,"v":0.03162,"a":"A","r":"r1"},{"c":30,"v":0.06026,"a":"A","r":"r1"},{"c":31,"v":0.1047,"a":"A","r":"r1"},{"c":32,"v":0.1905,"a":"A","r":"r1"},{"c":33,"v":0.3162,"a":"A","r":"r1"},{"c":34,"v":0.4677,"a":"A","r":"r1"},{"c":35,"v":0.631,"a":"A","r":"r1"},{"c":36,"v":0.8511,"a":"A","r":"r1"},{"c":37,"v":1.072,"a":"A","r":"r1"},{"c":38,"v":1.318,"a":"A","r":"r1"},{"c":39,"v":1.585,"a":"A","r":"r1"},{"c":40,"v":1.862,"a":"A","r":"r1"},
{"c":27,"v":0.002512,"a":"A","r":"r2"},{"c":28,"v":0.01259,"a":"A","r":"r2"},{"c":29,"v":0.02818,"a":"A","r":"r2"},{"c":30,"v":0.05623,"a":"A","r":"r2"},{"c":31,"v":0.1,"a":"A","r":"r2"},{"c":32,"v":0.182,"a":"A","r":"r2"},{"c":33,"v":0.302,"a":"A","r":"r2"},{"c":34,"v":0.4467,"a":"A","r":"r2"},{"c":35,"v":0.6166,"a":"A","r":"r2"},{"c":36,"v":0.8318,"a":"A","r":"r2"},{"c":37,"v":1.047,"a":"A","r":"r2"},{"c":38,"v":1.288,"a":"A","r":"r2"},{"c":39,"v":1.549,"a":"A","r":"r2"},{"c":40,"v":1.82,"a":"A","r":"r2"},
{"c":25,"v":0.0002951,"a":"K","r":"g1"},{"c":26,"v":0.004898,"a":"K","r":"g1"},{"c":27,"v":0.004266,"a":"K","r":"g1"},{"c":28,"v":0.0007079,"a":"K","r":"g1"},{"c":29,"v":0.01318,"a":"K","r":"g1"},{"c":30,"v":0.02818,"a":"K","r":"g1"},{"c":31,"v":0.05754,"a":"K","r":"g1"},{"c":32,"v":0.1072,"a":"K","r":"g1"},{"c":33,"v":0.1905,"a":"K","r":"g1"},{"c":34,"v":0.302,"a":"K","r":"g1"},{"c":35,"v":0.4467,"a":"K","r":"g1"},{"c":36,"v":0.6026,"a":"K","r":"g1"},{"c":37,"v":0.7413,"a":"K","r":"g1"},{"c":38,"v":0.871,"a":"K","r":"g1"},{"c":39,"v":0.9772,"a":"K","r":"g1"},{"c":40,"v":1.072,"a":"K","r":"g1"},
{"c":27,"v":0.002188,"a":"G","r":"g2"},{"c":28,"v":0.005623,"a":"G","r":"g2"},{"c":29,"v":0.01259,"a":"G","r":"g2"},{"c":30,"v":0.0263,"a":"G","r":"g2"},{"c":31,"v":0.0537,"a":"G","r":"g2"},{"c":32,"v":0.1023,"a":"G","r":"g2"},{"c":33,"v":0.182,"a":"G","r":"g2"},{"c":34,"v":0.2884,"a":"G","r":"g2"},{"c":35,"v":0.4266,"a":"G","r":"g2"},{"c":36,"v":0.5754,"a":"G","r":"g2"},{"c":37,"v":0.7244,"a":"G","r":"g2"},{"c":38,"v":0.8511,"a":"G","r":"g2"},{"c":39,"v":0.955,"a":"G","r":"g2"},{"c":40,"v":1.047,"a":"G","r":"g2"}
]},"mark":{"type":"line","strokeWidth":1},"encoding":{"x":{"field":"c","type":"quantitative"},"y":{"field":"v","type":"quantitative"},"color":{"field":"a","type":"nominal","scale":{"domain":["A","G","K"],"range":["#e3212a","#1f8f45","#1b4a28"]}},"detail":{"field":"r","type":"nominal"}}},
{"mark":{"type":"rule","stroke":"#9b80d0","strokeWidth":2.5},"encoding":{"x":{"datum":22.41,"type":"quantitative"},"x2":{"datum":40.15},"y":{"datum":0.062,"type":"quantitative"}}}
]}
]},
{"spacing":3,"hconcat":[
{"width":235,"height":226,"data":{"values":[{}]},"layer":[
{"mark":{"type":"rect","fill":"#ffffff","stroke":"#8c8c8c","strokeWidth":0.8},"encoding":{"x":{"datum":23.91,"type":"quantitative","scale":{"domain":[18.75,40.65],"nice":false,"zero":false}},"x2":{"datum":40.15},"y":{"datum":10,"type":"quantitative","scale":{"type":"log","domain":[3.63e-6,3373],"nice":false}},"y2":{"datum":2.82e-5}}},
{"data":{"name":"vgrid"},"mark":{"type":"rule","stroke":"#bcbcbc","strokeWidth":0.7},"encoding":{"x":{"field":"c","type":"quantitative"},"y":{"datum":2.82e-5,"type":"quantitative"},"y2":{"datum":10}}},
{"data":{"name":"hminor"},"mark":{"type":"rule","stroke":"#d0d0d0","strokeWidth":0.7},"encoding":{"x":{"datum":23.91,"type":"quantitative"},"x2":{"datum":40.15},"y":{"field":"v","type":"quantitative"}}},
{"data":{"name":"hminor"},"mark":{"type":"rule","stroke":"#d0d0d0","strokeWidth":0.7},"encoding":{"x":{"datum":22.41,"type":"quantitative"},"x2":{"datum":23.57},"y":{"field":"v","type":"quantitative"}}},
{"data":{"name":"ylab"},"mark":{"type":"rule","stroke":"#a0a0a0","strokeWidth":0.7},"encoding":{"x":{"datum":22.41,"type":"quantitative"},"x2":{"datum":40.15},"y":{"field":"v","type":"quantitative"}}},
{"data":{"name":"ylab"},"mark":{"type":"rule","stroke":"#222222","strokeWidth":0.7},"encoding":{"x":{"datum":22.2,"type":"quantitative"},"x2":{"datum":22.41},"y":{"field":"v","type":"quantitative"}}},
{"mark":{"type":"rule","stroke":"#222222","strokeWidth":0.9},"encoding":{"x":{"datum":22.41,"type":"quantitative"},"y":{"datum":2.82e-5,"type":"quantitative"},"y2":{"datum":10}}},
{"mark":{"type":"rule","stroke":"#111111","strokeWidth":2},"encoding":{"x":{"datum":22.41,"type":"quantitative"},"x2":{"datum":23.57},"y":{"datum":10,"type":"quantitative"}}},
{"mark":{"type":"rule","stroke":"#222222","strokeWidth":0.9},"encoding":{"x":{"datum":22.41,"type":"quantitative"},"x2":{"datum":23.45},"y":{"datum":2.82e-5,"type":"quantitative"}}},
{"mark":{"type":"rule","stroke":"#222222","strokeWidth":0.8},"encoding":{"x":{"datum":23.35,"type":"quantitative"},"x2":{"datum":23.6},"y":{"datum":1.78e-5,"type":"quantitative"},"y2":{"datum":4.47e-5}}},
{"mark":{"type":"rule","stroke":"#222222","strokeWidth":0.8},"encoding":{"x":{"datum":23.6,"type":"quantitative"},"x2":{"datum":23.85},"y":{"datum":1.78e-5,"type":"quantitative"},"y2":{"datum":4.47e-5}}},
{"data":{"name":"ylab"},"mark":{"type":"text","align":"right","baseline":"middle","fontSize":5.5,"fill":"#333333"},"encoding":{"x":{"datum":22.15,"type":"quantitative"},"y":{"field":"v","type":"quantitative"},"text":{"field":"t"}}},
{"data":{"name":"xlab"},"mark":{"type":"text","align":"center","baseline":"middle","fontSize":5.5,"fill":"#333333"},"encoding":{"x":{"field":"c","type":"quantitative"},"y":{"datum":1.41e-5,"type":"quantitative"},"text":{"field":"t"}}},
{"mark":{"type":"text","text":"Amplification Plot","fontSize":8.5,"fontWeight":"bold","fill":"#222222","baseline":"middle"},"encoding":{"x":{"datum":30.6,"type":"quantitative"},"y":{"datum":18.6,"type":"quantitative"}}},
{"mark":{"type":"text","text":"ΔRn","fontSize":6,"fontWeight":"bold","fill":"#222222","angle":270,"baseline":"middle"},"encoding":{"x":{"datum":19.45,"type":"quantitative"},"y":{"datum":0.026,"type":"quantitative"}}},
{"mark":{"type":"rule","stroke":"#3a3a3a","strokeWidth":1},"encoding":{"x":{"datum":18.75,"type":"quantitative"},"x2":{"datum":40.65},"y":{"datum":38.3,"type":"quantitative"}}},
{"mark":{"type":"text","text":"independent","fontSize":19.5,"fill":"#231f20","align":"center","baseline":"middle"},"encoding":{"x":{"datum":29.7,"type":"quantitative"},"y":{"datum":857,"type":"quantitative"}}},
{"mark":{"type":"text","text":"hESC clones","fontSize":19.5,"fill":"#231f20","align":"center","baseline":"middle"},"encoding":{"x":{"datum":29.7,"type":"quantitative"},"y":{"datum":114.8,"type":"quantitative"}}},
{"data":{"values":[
{"c":24,"v":0.001995,"a":"K","r":"ug"},{"c":25,"v":0.007079,"a":"K","r":"ug"},{"c":26,"v":0.01585,"a":"K","r":"ug"},{"c":27,"v":0.03388,"a":"K","r":"ug"},{"c":28,"v":0.07413,"a":"K","r":"ug"},{"c":29,"v":0.166,"a":"K","r":"ug"},{"c":30,"v":0.3388,"a":"K","r":"ug"},{"c":31,"v":0.5754,"a":"K","r":"ug"},{"c":32,"v":0.8318,"a":"K","r":"ug"},{"c":33,"v":1.096,"a":"K","r":"ug"},{"c":34,"v":1.318,"a":"K","r":"ug"},{"c":35,"v":1.514,"a":"K","r":"ug"},{"c":36,"v":1.698,"a":"K","r":"ug"},{"c":37,"v":1.862,"a":"K","r":"ug"},{"c":38,"v":1.995,"a":"K","r":"ug"},{"c":39,"v":2.188,"a":"K","r":"ug"},{"c":40,"v":2.344,"a":"K","r":"ug"},
{"c":24,"v":0.006761,"a":"G","r":"ug2"},{"c":25,"v":0.007586,"a":"G","r":"ug2"},{"c":26,"v":0.0166,"a":"G","r":"ug2"},{"c":27,"v":0.03467,"a":"G","r":"ug2"},{"c":28,"v":0.0759,"a":"G","r":"ug2"},{"c":29,"v":0.17,"a":"G","r":"ug2"},{"c":30,"v":0.345,"a":"G","r":"ug2"},{"c":31,"v":0.58,"a":"G","r":"ug2"},{"c":32,"v":0.84,"a":"G","r":"ug2"},{"c":33,"v":1.1,"a":"G","r":"ug2"},{"c":34,"v":1.32,"a":"G","r":"ug2"},{"c":35,"v":1.52,"a":"G","r":"ug2"},{"c":36,"v":1.7,"a":"G","r":"ug2"},{"c":37,"v":1.86,"a":"G","r":"ug2"},{"c":38,"v":2.0,"a":"G","r":"ug2"},{"c":39,"v":2.19,"a":"G","r":"ug2"},{"c":40,"v":2.34,"a":"G","r":"ug2"},
{"c":24,"v":0.001072,"a":"A","r":"ur"},{"c":25,"v":0.004467,"a":"A","r":"ur"},{"c":26,"v":0.01318,"a":"A","r":"ur"},{"c":27,"v":0.03162,"a":"A","r":"ur"},{"c":28,"v":0.07079,"a":"A","r":"ur"},{"c":29,"v":0.1585,"a":"A","r":"ur"},{"c":30,"v":0.3236,"a":"A","r":"ur"},{"c":31,"v":0.5495,"a":"A","r":"ur"},{"c":32,"v":0.7943,"a":"A","r":"ur"},{"c":33,"v":1.047,"a":"A","r":"ur"},{"c":34,"v":1.288,"a":"A","r":"ur"},{"c":35,"v":1.479,"a":"A","r":"ur"},{"c":36,"v":1.66,"a":"A","r":"ur"},{"c":37,"v":1.862,"a":"A","r":"ur"},{"c":38,"v":2.042,"a":"A","r":"ur"},{"c":39,"v":2.239,"a":"A","r":"ur"},{"c":40,"v":2.399,"a":"A","r":"ur"},
{"c":24,"v":0.0001,"a":"A","r":"lr"},{"c":25,"v":0.000631,"a":"A","r":"lr"},{"c":26,"v":0.001,"a":"A","r":"lr"},{"c":27,"v":0.004467,"a":"A","r":"lr"},{"c":28,"v":0.01122,"a":"A","r":"lr"},{"c":29,"v":0.0263,"a":"A","r":"lr"},{"c":30,"v":0.0631,"a":"A","r":"lr"},{"c":31,"v":0.1413,"a":"A","r":"lr"},{"c":32,"v":0.263,"a":"A","r":"lr"},{"c":33,"v":0.4365,"a":"A","r":"lr"},{"c":34,"v":0.631,"a":"A","r":"lr"},{"c":35,"v":0.8318,"a":"A","r":"lr"},{"c":36,"v":1.023,"a":"A","r":"lr"},{"c":37,"v":1.202,"a":"A","r":"lr"},{"c":38,"v":1.413,"a":"A","r":"lr"},{"c":39,"v":1.622,"a":"A","r":"lr"},{"c":40,"v":1.82,"a":"A","r":"lr"},
{"c":26,"v":0.002512,"a":"K","r":"lg"},{"c":27,"v":0.007079,"a":"K","r":"lg"},{"c":28,"v":0.01479,"a":"K","r":"lg"},{"c":29,"v":0.03162,"a":"K","r":"lg"},{"c":30,"v":0.07079,"a":"K","r":"lg"},{"c":31,"v":0.1514,"a":"K","r":"lg"},{"c":32,"v":0.2754,"a":"K","r":"lg"},{"c":33,"v":0.4467,"a":"K","r":"lg"},{"c":34,"v":0.6457,"a":"K","r":"lg"},{"c":35,"v":0.8511,"a":"K","r":"lg"},{"c":36,"v":1.047,"a":"K","r":"lg"},{"c":37,"v":1.23,"a":"K","r":"lg"},{"c":38,"v":1.413,"a":"K","r":"lg"},{"c":39,"v":1.622,"a":"K","r":"lg"},{"c":40,"v":1.82,"a":"K","r":"lg"}
]},"mark":{"type":"line","strokeWidth":1},"encoding":{"x":{"field":"c","type":"quantitative"},"y":{"field":"v","type":"quantitative"},"color":{"field":"a","type":"nominal","scale":{"domain":["A","G","K"],"range":["#e3212a","#1f8f45","#1b4a28"]}},"detail":{"field":"r","type":"nominal"}}},
{"data":{"values":[{"c":27.9,"v":1.51,"c2":28.9,"v2":0.589},{"c":32.65,"v":0.0228,"c2":31.57,"v2":0.0501}]},"mark":{"type":"rule","stroke":"#111111","strokeWidth":1.5},"encoding":{"x":{"field":"c","type":"quantitative"},"x2":{"field":"c2"},"y":{"field":"v","type":"quantitative"},"y2":{"field":"v2"}}},
{"data":{"values":[{"c":29.17,"v":0.457}]},"mark":{"type":"point","shape":"M0,-1L0.75,1L-0.75,1Z","size":64,"filled":true,"fill":"#111111","opacity":1,"strokeWidth":0,"angle":134},"encoding":{"x":{"field":"c","type":"quantitative"},"y":{"field":"v","type":"quantitative"}}},
{"data":{"values":[{"c":31.26,"v":0.0617}]},"mark":{"type":"point","shape":"M0,-1L0.75,1L-0.75,1Z","size":64,"filled":true,"fill":"#111111","opacity":1,"strokeWidth":0,"angle":306},"encoding":{"x":{"field":"c","type":"quantitative"},"y":{"field":"v","type":"quantitative"}}},
{"data":{"values":[{"c":24.1,"v":3.8,"t":"BG01-d26"},{"c":28.67,"v":0.00676,"t":"BG01-N-d26"}]},"mark":{"type":"text","fontSize":19,"fill":"#231f20","align":"left","baseline":"middle"},"encoding":{"x":{"field":"c","type":"quantitative"},"y":{"field":"v","type":"quantitative"},"text":{"field":"t"}}}
]},
{"width":236,"height":226,"data":{"values":[{}]},"layer":[
{"mark":{"type":"rect","fill":"#ffffff","stroke":"#8c8c8c","strokeWidth":0.8},"encoding":{"x":{"datum":23.91,"type":"quantitative","scale":{"domain":[18.75,40.65],"nice":false,"zero":false}},"x2":{"datum":40.15},"y":{"datum":10,"type":"quantitative","scale":{"type":"log","domain":[3.63e-6,3373],"nice":false}},"y2":{"datum":2.82e-5}}},
{"data":{"name":"vgrid"},"mark":{"type":"rule","stroke":"#bcbcbc","strokeWidth":0.7},"encoding":{"x":{"field":"c","type":"quantitative"},"y":{"datum":2.82e-5,"type":"quantitative"},"y2":{"datum":10}}},
{"data":{"name":"hminor"},"mark":{"type":"rule","stroke":"#d0d0d0","strokeWidth":0.7},"encoding":{"x":{"datum":23.91,"type":"quantitative"},"x2":{"datum":40.15},"y":{"field":"v","type":"quantitative"}}},
{"data":{"name":"hminor"},"mark":{"type":"rule","stroke":"#d0d0d0","strokeWidth":0.7},"encoding":{"x":{"datum":22.41,"type":"quantitative"},"x2":{"datum":23.57},"y":{"field":"v","type":"quantitative"}}},
{"data":{"name":"ylab"},"mark":{"type":"rule","stroke":"#a0a0a0","strokeWidth":0.7},"encoding":{"x":{"datum":22.41,"type":"quantitative"},"x2":{"datum":40.15},"y":{"field":"v","type":"quantitative"}}},
{"data":{"name":"ylab"},"mark":{"type":"rule","stroke":"#222222","strokeWidth":0.7},"encoding":{"x":{"datum":22.2,"type":"quantitative"},"x2":{"datum":22.41},"y":{"field":"v","type":"quantitative"}}},
{"mark":{"type":"rule","stroke":"#222222","strokeWidth":0.9},"encoding":{"x":{"datum":22.41,"type":"quantitative"},"y":{"datum":2.82e-5,"type":"quantitative"},"y2":{"datum":10}}},
{"mark":{"type":"rule","stroke":"#111111","strokeWidth":2},"encoding":{"x":{"datum":22.41,"type":"quantitative"},"x2":{"datum":23.57},"y":{"datum":10,"type":"quantitative"}}},
{"mark":{"type":"rule","stroke":"#222222","strokeWidth":0.9},"encoding":{"x":{"datum":22.41,"type":"quantitative"},"x2":{"datum":23.45},"y":{"datum":2.82e-5,"type":"quantitative"}}},
{"mark":{"type":"rule","stroke":"#222222","strokeWidth":0.8},"encoding":{"x":{"datum":23.35,"type":"quantitative"},"x2":{"datum":23.6},"y":{"datum":1.78e-5,"type":"quantitative"},"y2":{"datum":4.47e-5}}},
{"mark":{"type":"rule","stroke":"#222222","strokeWidth":0.8},"encoding":{"x":{"datum":23.6,"type":"quantitative"},"x2":{"datum":23.85},"y":{"datum":1.78e-5,"type":"quantitative"},"y2":{"datum":4.47e-5}}},
{"data":{"name":"ylab"},"mark":{"type":"text","align":"right","baseline":"middle","fontSize":5.5,"fill":"#333333"},"encoding":{"x":{"datum":22.15,"type":"quantitative"},"y":{"field":"v","type":"quantitative"},"text":{"field":"t"}}},
{"data":{"name":"xlab"},"mark":{"type":"text","align":"center","baseline":"middle","fontSize":5.5,"fill":"#333333"},"encoding":{"x":{"field":"c","type":"quantitative"},"y":{"datum":1.41e-5,"type":"quantitative"},"text":{"field":"t"}}},
{"mark":{"type":"text","text":"Amplification Plot","fontSize":8.5,"fontWeight":"bold","fill":"#222222","baseline":"middle"},"encoding":{"x":{"datum":30.6,"type":"quantitative"},"y":{"datum":18.6,"type":"quantitative"}}},
{"mark":{"type":"text","text":"ΔRn","fontSize":6,"fontWeight":"bold","fill":"#222222","angle":270,"baseline":"middle"},"encoding":{"x":{"datum":19.45,"type":"quantitative"},"y":{"datum":0.026,"type":"quantitative"}}},
{"mark":{"type":"rule","stroke":"#3a3a3a","strokeWidth":1},"encoding":{"x":{"datum":18.75,"type":"quantitative"},"x2":{"datum":40.65},"y":{"datum":38.3,"type":"quantitative"}}},
{"mark":{"type":"text","text":"No-RT control","fontSize":19.5,"fill":"#231f20","align":"center","baseline":"middle"},"encoding":{"x":{"datum":29.7,"type":"quantitative"},"y":{"datum":857,"type":"quantitative"}}},
{"mark":{"type":"text","text":"(IPS-G and IPS-A)","fontSize":19.5,"fill":"#231f20","align":"center","baseline":"middle"},"encoding":{"x":{"datum":29.7,"type":"quantitative"},"y":{"datum":114.8,"type":"quantitative"}}},
{"data":{"values":[
{"c":31,"v":0.003162,"a":"K","r":"g1"},{"c":32,"v":0.0003981,"a":"K","r":"g1"},{"c":33,"v":0.006761,"a":"K","r":"g1"},{"c":34,"v":0.01413,"a":"K","r":"g1"},{"c":35,"v":0.02818,"a":"K","r":"g1"},{"c":36,"v":0.0631,"a":"K","r":"g1"},{"c":37,"v":0.1202,"a":"K","r":"g1"},{"c":38,"v":0.2239,"a":"K","r":"g1"},{"c":39,"v":0.3981,"a":"K","r":"g1"},{"c":40,"v":0.6607,"a":"K","r":"g1"},
{"c":32,"v":0.003715,"a":"G","r":"g2"},{"c":33,"v":0.007943,"a":"G","r":"g2"},{"c":34,"v":0.01778,"a":"G","r":"g2"},{"c":35,"v":0.03162,"a":"G","r":"g2"},{"c":36,"v":0.07079,"a":"G","r":"g2"},{"c":37,"v":0.1413,"a":"G","r":"g2"},{"c":38,"v":0.2512,"a":"G","r":"g2"},{"c":39,"v":0.3981,"a":"G","r":"g2"},{"c":40,"v":0.6026,"a":"G","r":"g2"},
{"c":33,"v":0.001514,"a":"G","r":"g3"},{"c":34,"v":0.003981,"a":"G","r":"g3"},{"c":35,"v":0.01122,"a":"G","r":"g3"},{"c":36,"v":0.02818,"a":"G","r":"g3"},{"c":37,"v":0.0631,"a":"G","r":"g3"},{"c":38,"v":0.1259,"a":"G","r":"g3"},{"c":39,"v":0.2512,"a":"G","r":"g3"},{"c":40,"v":0.4786,"a":"G","r":"g3"},
{"c":32,"v":0.005012,"a":"K","r":"g4"},{"c":33,"v":0.00631,"a":"K","r":"g4"},{"c":34,"v":0.01259,"a":"K","r":"g4"},{"c":35,"v":0.02512,"a":"K","r":"g4"},{"c":36,"v":0.05623,"a":"K","r":"g4"},{"c":37,"v":0.1122,"a":"K","r":"g4"},{"c":38,"v":0.2089,"a":"K","r":"g4"},{"c":39,"v":0.3631,"a":"K","r":"g4"},{"c":40,"v":0.5754,"a":"K","r":"g4"},
{"c":32,"v":0.003162,"a":"A","r":"r1"},{"c":33,"v":0.001738,"a":"A","r":"r1"},{"c":34,"v":0.003715,"a":"A","r":"r1"},{"c":35,"v":0.01122,"a":"A","r":"r1"},{"c":36,"v":0.02818,"a":"A","r":"r1"},{"c":37,"v":0.06026,"a":"A","r":"r1"},{"c":38,"v":0.1175,"a":"A","r":"r1"},{"c":39,"v":0.2089,"a":"A","r":"r1"},{"c":40,"v":0.3388,"a":"A","r":"r1"},
{"c":33,"v":0.0002884,"a":"A","r":"r2"},{"c":34,"v":0.003162,"a":"A","r":"r2"},{"c":35,"v":0.00631,"a":"A","r":"r2"},{"c":36,"v":0.01778,"a":"A","r":"r2"},{"c":37,"v":0.03802,"a":"A","r":"r2"},{"c":38,"v":0.07586,"a":"A","r":"r2"},{"c":39,"v":0.1413,"a":"A","r":"r2"},{"c":40,"v":0.2512,"a":"A","r":"r2"},
{"c":33,"v":0.002754,"a":"A","r":"r3"},{"c":34,"v":0.001514,"a":"A","r":"r3"},{"c":35,"v":0.01259,"a":"A","r":"r3"},{"c":36,"v":0.03548,"a":"A","r":"r3"},{"c":37,"v":0.07943,"a":"A","r":"r3"},{"c":38,"v":0.1585,"a":"A","r":"r3"},{"c":39,"v":0.2818,"a":"A","r":"r3"},{"c":40,"v":0.4677,"a":"A","r":"r3"},
{"c":32,"v":0.006761,"a":"A","r":"r4"},{"c":33,"v":0.007943,"a":"A","r":"r4"},{"c":34,"v":0.01259,"a":"A","r":"r4"},{"c":35,"v":0.03162,"a":"A","r":"r4"},{"c":36,"v":0.06607,"a":"A","r":"r4"},{"c":37,"v":0.1318,"a":"A","r":"r4"},{"c":38,"v":0.2399,"a":"A","r":"r4"},{"c":39,"v":0.3802,"a":"A","r":"r4"},{"c":40,"v":0.537,"a":"A","r":"r4"}
]},"mark":{"type":"line","strokeWidth":1},"encoding":{"x":{"field":"c","type":"quantitative"},"y":{"field":"v","type":"quantitative"},"color":{"field":"a","type":"nominal","scale":{"domain":["A","G","K"],"range":["#e3212a","#1f8f45","#1b4a28"]}},"detail":{"field":"r","type":"nominal"}}},
{"mark":{"type":"rule","stroke":"#6b55c0","strokeWidth":1.5},"encoding":{"x":{"datum":22.41,"type":"quantitative"},"x2":{"datum":40.15},"y":{"datum":0.083,"type":"quantitative"}}}
]}
]}
]}
]}
]
}
